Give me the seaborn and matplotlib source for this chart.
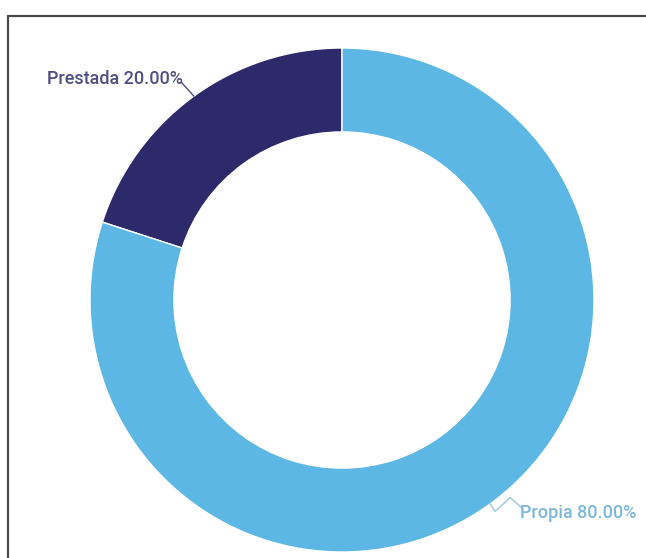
import numpy as np
import matplotlib.pyplot as plt
from matplotlib.lines import Line2D
import seaborn as sns

# datos del gráfico
categorias = ['Prestada', 'Propia']
porcentajes = [20.0, 80.0]
colores = ['#2c2a6b', '#5db7e5']
colores_texto = ['#4f4f84', '#7cb7dc']

sns.set_theme(style="white")
plt.rcParams['font.family'] = ['Roboto', 'DejaVu Sans']

fig = plt.figure(figsize=(6.46, 5.58), dpi=100)
W, H = 646, 558
cx, cy, r = 342, 300, 252
ax = fig.add_axes([(cx - r) / W, (H - cy - r) / H, 2 * r / W, 2 * r / H])

wedges, _ = ax.pie(porcentajes, colors=sns.color_palette(colores), startangle=90,
                   counterclock=True, radius=1,
                   wedgeprops=dict(width=0.333, edgecolor='white', linewidth=1))
ax.set_xlim(-1, 1)
ax.set_ylim(-1, 1)
for w in wedges:
    w.set_clip_on(False)

# etiquetas con líneas guía
for w, cat, val, ct in zip(wedges, categorias, porcentajes, colores_texto):
    ang = np.deg2rad((w.theta1 + w.theta2) / 2)
    x0, y0 = np.cos(ang), np.sin(ang)
    label = f"{cat} {val:.2f}%"
    if x0 < 0:
        tx, ty = x0 - 0.05, y0 + 0.055
        ax.plot([x0, tx], [y0, ty], color=ct, lw=1, clip_on=False)
        ax.text(tx + 0.005, ty + 0.012, label, ha='right', va='center',
                fontsize=13, fontweight='medium', color=ct, clip_on=False)
    else:
        xs = [x0, x0 + 0.02, x0 + 0.08, x0 + 0.125]
        ys = [y0, y0 - 0.03, y0 + 0.025, y0 - 0.015]
        ax.plot(xs, ys, color='#9ac3e0', lw=1, clip_on=False)
        ax.text(x0 + 0.12, y0 - 0.035, label, ha='left', va='center',
                fontsize=13, fontweight='medium', color=ct, clip_on=False)

# marco de la captura (solo arriba e izquierda)
y_top = (H - 16) / H
x_left = 8 / W
fig.add_artist(Line2D([x_left, 1.0], [y_top, y_top], transform=fig.transFigure,
                      color='#4a4a4a', lw=1.6))
fig.add_artist(Line2D([x_left, x_left], [0.0, y_top], transform=fig.transFigure,
                      color='#4a4a4a', lw=1.6))

fig.savefig('out.png', dpi=100)
